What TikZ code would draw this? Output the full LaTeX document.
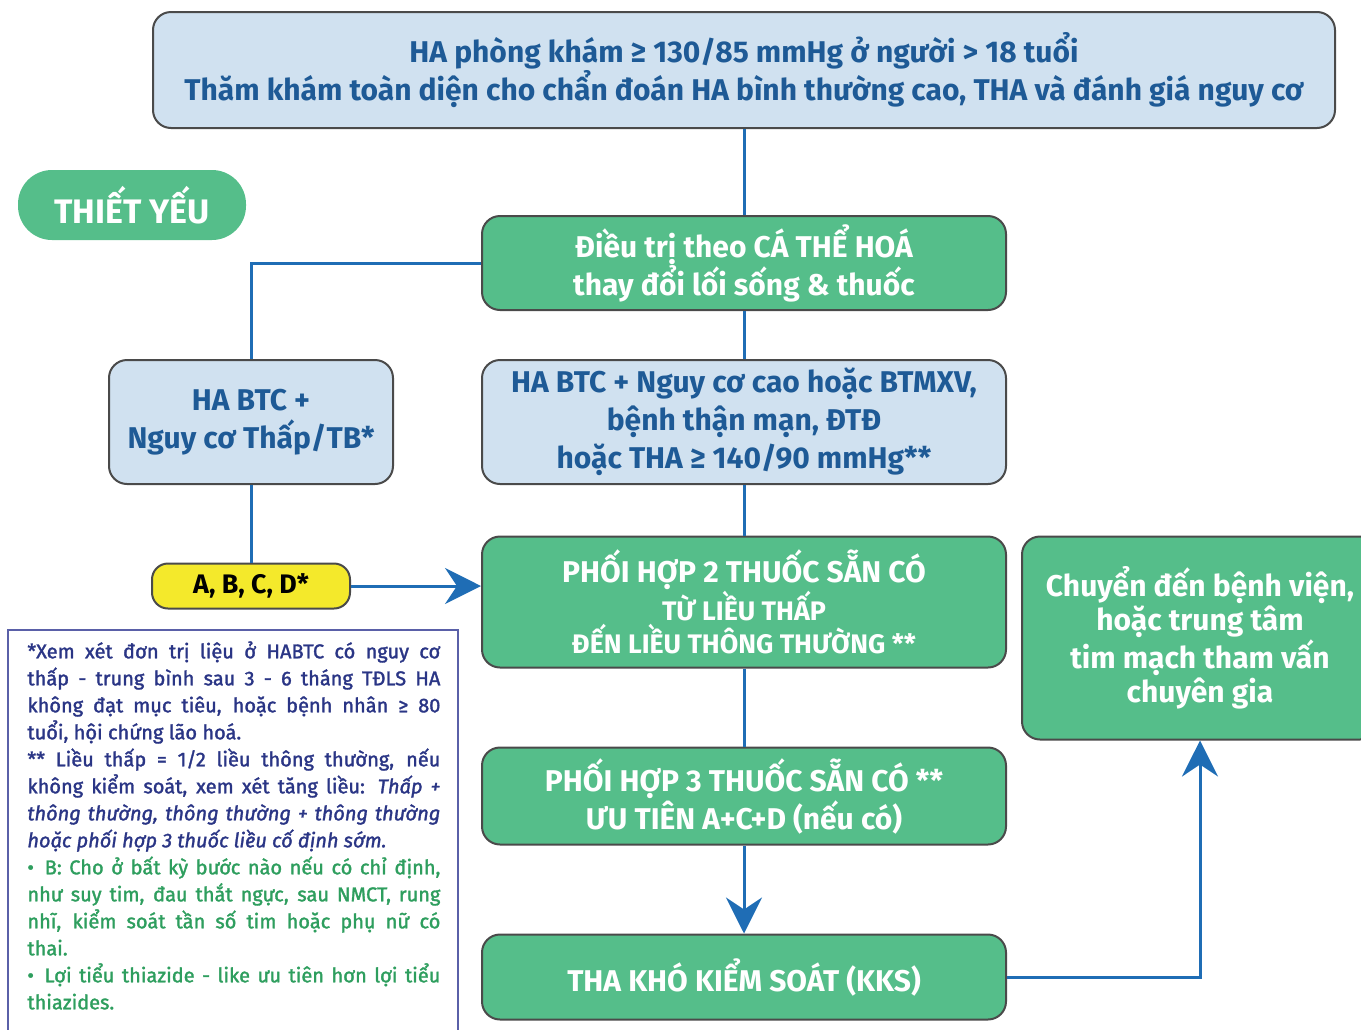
\documentclass[tikz,border=0pt]{standalone}
\usepackage{fontspec}
\setmainfont{Fira Sans}
\newfontfamily\notefont[FakeBold=1.6]{Fira Sans}
\usetikzlibrary{arrows.meta}

\definecolor{boxgreen}{HTML}{55BE8A}
\definecolor{boxblue}{HTML}{D0E1F0}
\definecolor{linkblue}{HTML}{1F6DB5}
\definecolor{textblue}{HTML}{1E5A96}
\definecolor{edgegray}{HTML}{4A4A4A}
\definecolor{noteblue}{HTML}{2A3585}
\definecolor{notegreen}{HTML}{2E9E5E}
\definecolor{noteedge}{HTML}{5A60A8}
\definecolor{yellowtag}{HTML}{F4E92B}

\begin{document}
\begin{tikzpicture}[x=0.5pt, y=-0.5pt,
    bluebox/.style={draw=edgegray, line width=1pt, fill=boxblue, rounded corners=9pt,
        text=textblue, align=center, font=\bfseries\fontsize{15}{19}\selectfont},
    greenbox/.style={draw=edgegray, line width=1pt, fill=boxgreen, rounded corners=9pt,
        text=white, align=center, font=\bfseries\fontsize{15}{19}\selectfont},
    link/.style={linkblue, line width=1.5pt},
    bigarrow/.style={-{Stealth[length=18pt, width=18pt, inset=6pt]}}]
    \useasboundingbox (0,0) rectangle (1361,1029);

    % Top: clinic measurement
    \node[bluebox, minimum width=591pt, minimum height=58pt] (clinic) at (744,70)
        {HA phòng khám ≥ 130/85 mmHg ở người > 18 tuổi\\Thăm khám toàn diện cho chẩn đoán HA bình thường cao, THA và đánh giá nguy cơ};

    % Level tag
    \node[greenbox, draw=none, rounded corners=17pt, minimum width=114pt, minimum height=35pt,
        font=\bfseries\fontsize{17}{19}\selectfont] (essential) at (132,205) {THIẾT YẾU};

    % Main column
    \node[greenbox, minimum width=262pt, minimum height=47pt] (custom) at (744,263)
        {Điều trị theo CÁ THỂ HOÁ\\thay đổi lối sống \& thuốc};
    \node[bluebox, minimum width=142pt, minimum height=62pt] (lowrisk) at (251,422)
        {HA BTC +\\Nguy cơ Thấp/TB*};
    \node[bluebox, minimum width=262pt, minimum height=62pt] (highrisk) at (744,422)
        {HA BTC + Nguy cơ cao hoặc BTMXV,\\bệnh thận mạn, ĐTĐ\\hoặc THA ≥ 140/90 mmHg**};
    \node[draw=edgegray, line width=1pt, fill=yellowtag, rounded corners=8pt, minimum width=99pt,
        minimum height=22.5pt, font=\bfseries\fontsize{13.4}{15}\selectfont] (drugs) at (251,586) {A, B, C, D*};
    \node[greenbox, minimum width=262pt, minimum height=65.5pt, font=\bfseries\fontsize{15}{16.5}\selectfont] (dual) at (744,602)
        {PHỐI HỢP 2 THUỐC SẴN CÓ\\{\fontsize{13.4}{16.5}\selectfont TỪ LIỀU THẤP}\\{\fontsize{13.4}{16.5}\selectfont ĐẾN LIỀU THÔNG THƯỜNG **}};
    \node[greenbox, minimum width=262pt, minimum height=48.5pt] (triple) at (744,796)
        {PHỐI HỢP 3 THUỐC SẴN CÓ **\\ƯU TIÊN A+C+D (nếu có)};
    \node[greenbox, minimum width=262pt, minimum height=42.5pt] (resistant) at (744,977)
        {THA KHÓ KIỂM SOÁT (KKS)};
    \node[greenbox, minimum width=178pt, minimum height=101.5pt,
        font=\bfseries\fontsize{15}{17}\selectfont] (referral) at (1200,638)
        {Chuyển đến bệnh viện,\\hoặc trung tâm\\tim mạch tham vấn\\chuyên gia};

    % Connectors
    \draw[link] (clinic.south) -- (custom.north);
    \draw[link] (custom.west) -| (lowrisk.north);
    \draw[link] (custom.south) -- (highrisk.north);
    \draw[link] (highrisk.south) -- (dual.north);
    \draw[link] (lowrisk.south) -- (drugs.north);
    \draw[link, bigarrow] (drugs.east) -- (drugs.east -| dual.west);
    \draw[link] (dual.south) -- (triple.north);
    \draw[link, bigarrow] (triple.south) -- (resistant.north);
    \draw[link, bigarrow] (resistant.east) -| (referral.south);

    % Footnotes
    \draw[noteedge, line width=1pt] (8,630) rectangle (458,1045);
    \node[anchor=north west, inner sep=0pt, text width=206.5pt, align=justify,
        font=\notefont\fontsize{10}{13.5}\selectfont] (notes) at (27,641) {%
        \color{noteblue}*Xem xét đơn trị liệu ở HABTC có nguy cơ\linebreak
        thấp - trung bình sau 3 - 6 tháng TĐLS HA\linebreak
        không đạt mục tiêu, hoặc bệnh nhân ≥ 80\linebreak
        tuổi, hội chứng lão hoá.\par
        ** Liều thấp = 1/2 liều thông thường, nếu\linebreak
        không kiểm soát, xem xét tăng liều: \textit{Thấp +\linebreak
        thông thường, thông thường + thông thường\linebreak
        hoặc phối hợp 3 thuốc liều cố định sớm.}\par
        \color{notegreen}•\, B: Cho ở bất kỳ bước nào nếu có chỉ định,\linebreak
        như suy tim, đau thắt ngực, sau NMCT, rung\linebreak
        nhĩ, kiểm soát tần số tim hoặc phụ nữ có\linebreak
        thai.\par
        •\, Lợi tiểu thiazide - like ưu tiên hơn lợi tiểu\linebreak
        thiazides.};
\end{tikzpicture}
\end{document}
